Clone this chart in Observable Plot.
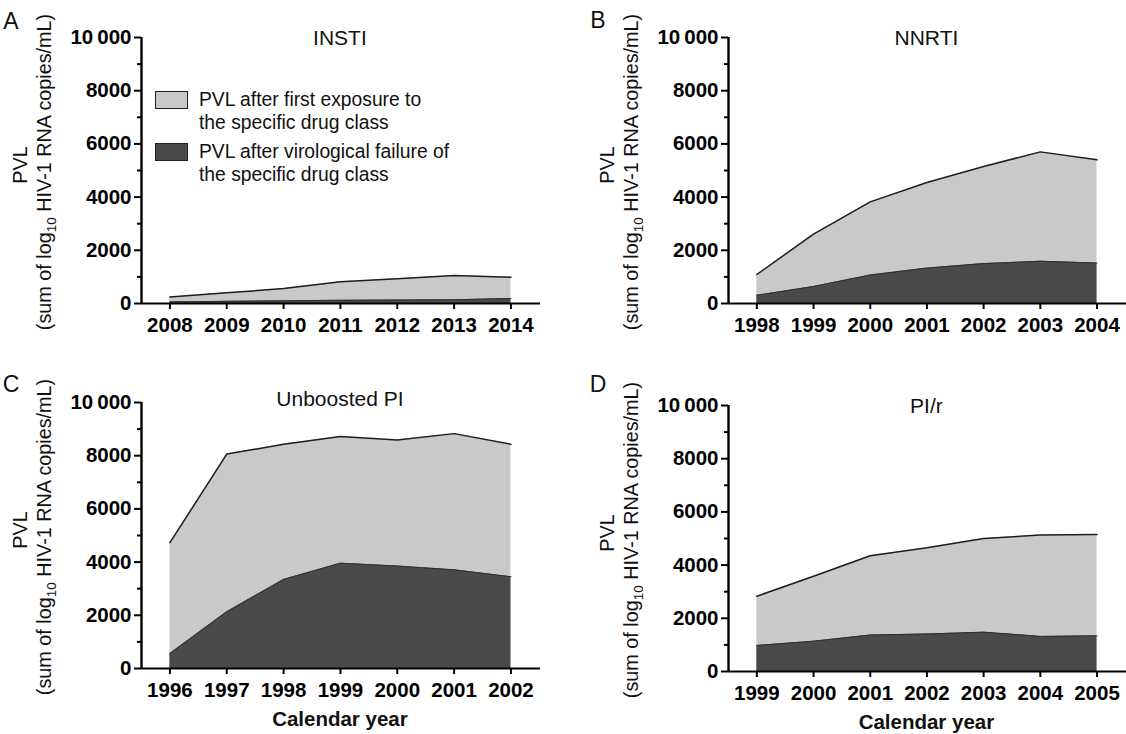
<!DOCTYPE html>
<html>
<head>
<meta charset="utf-8">
<script src="https://cdn.jsdelivr.net/npm/d3@7"></script>
<script src="https://cdn.jsdelivr.net/npm/@observablehq/plot@0.6"></script>
<style>
  html, body { margin: 0; padding: 0; background: #fff; overflow: hidden; }
  #page { position: relative; width: 1126px; height: 734px; font-family: 'Liberation Sans', Arial, Helvetica, sans-serif; }
  .panel { position: absolute; }
  #legend { position: absolute; left: 155px; top: 88px; font-size: 19.3px; color: #111; line-height: 23px; }
  .item { position: relative; padding-left: 44px; margin-bottom: 6px; }
  .sw { position: absolute; left: 0; top: 3px; width: 33px; height: 18px; border: 1px solid #222; box-sizing: border-box; }
</style>
</head>
<body>
<div id="page"></div>
<script>
// ---- data ----
const instiYears = [2008, 2009, 2010, 2011, 2012, 2013, 2014];
const instiExposure = [240, 400, 560, 820, 930, 1050, 990];
const instiFailure = [60, 80, 100, 120, 130, 140, 190];

const nnrtiYears = [1998, 1999, 2000, 2001, 2002, 2003, 2004];
const nnrtiExposure = [1090, 2610, 3820, 4550, 5150, 5700, 5400];
const nnrtiFailure = [310, 640, 1070, 1330, 1500, 1590, 1520];

const upiYears = [1996, 1997, 1998, 1999, 2000, 2001, 2002];
const upiExposure = [4730, 8060, 8430, 8720, 8590, 8830, 8430];
const upiFailure = [560, 2130, 3350, 3960, 3850, 3710, 3450];

const pirYears = [1999, 2000, 2001, 2002, 2003, 2004, 2005];
const pirExposure = [2830, 3580, 4350, 4650, 5000, 5130, 5150];
const pirFailure = [980, 1140, 1370, 1410, 1480, 1320, 1340];

const majorTicks = [0, 2000, 4000, 6000, 8000, 10000];
const minorTicks = [1000, 3000, 5000, 7000, 9000];
const seriesLabels = [
  ["PVL after first exposure to", "the specific drug class"],
  ["PVL after virological failure of", "the specific drug class"]
];
const lightFill = "#c9c9c9";
const darkFill = "#4a4a4a";
const font = "'Liberation Sans', Arial, Helvetica, sans-serif";

function makePanel(cfg) {
  const {years, exposure, failure, title, letter, left, top, width, marginRight, height, titleBaseline, letterBaseline, xLabel} = cfg;
  const rows = years.map((year, i) => ({year, exposure: exposure[i], failure: failure[i]}));
  const x0 = years[0] - 0.5;
  const x1 = years[years.length - 1] + 0.52;
  const chart = Plot.plot({
    width, height,
    marginLeft: 141, marginRight, marginTop: 37, marginBottom: height - 303,
    x: {domain: [x0, x1]},
    y: {domain: [0, 10000]},
    style: {fontFamily: font, background: "white", color: "black", overflow: "visible"},
    marks: [
      Plot.areaY(rows, {x: "year", y: "exposure", fill: lightFill}),
      Plot.areaY(rows, {x: "year", y: "failure", fill: darkFill}),
      Plot.lineY(rows, {x: "year", y: "exposure", stroke: "#1e1e1e", strokeWidth: 1.5}),
      Plot.lineY(rows, {x: "year", y: "failure", stroke: "#2e2e2e", strokeWidth: 1}),
      Plot.axisY({ticks: majorTicks, tickSize: 7, tickPadding: 3, strokeWidth: 2, label: null,
        fontSize: 20.5, fontWeight: "bold",
        tickFormat: d => d === 10000 ? "10\u2009000" : String(d)}),
      Plot.axisY({ticks: minorTicks, tickSize: 4, strokeWidth: 2, label: null, tickFormat: () => ""}),
      Plot.axisX({ticks: years, tickSize: 6, tickPadding: 8, strokeWidth: 2, label: null,
        fontSize: 20.5, fontWeight: "bold", tickFormat: d => String(d)}),
      Plot.ruleX([x0], {stroke: "black", strokeWidth: 2.4}),
      Plot.ruleY([0], {stroke: "black", strokeWidth: 2.2})
    ]
  });
  const svg = d3.select(chart);
  const xs = chart.scale("x");
  const cx = xs.apply((years[0] + years[years.length - 1]) / 2);
  svg.append("text").attr("x", 11).attr("y", letterBaseline).attr("font-size", 23).attr("fill", "#111").text(letter);
  svg.append("text").attr("x", cx).attr("y", titleBaseline).attr("text-anchor", "middle")
    .attr("font-size", 21).attr("fill", "#111").text(title);
  svg.append("text").attr("transform", "translate(27,165) rotate(-90)").attr("text-anchor", "middle")
    .attr("font-size", 19.8).attr("fill", "#111").text("PVL");
  const t2 = svg.append("text").attr("transform", "translate(51,172) rotate(-90)").attr("text-anchor", "middle")
    .attr("font-size", 19.8).attr("fill", "#111");
  t2.append("tspan").text("(sum of log");
  t2.append("tspan").attr("font-size", 13.5).attr("dy", 5).text("10");
  t2.append("tspan").attr("dy", -5).text(" HIV-1 RNA copies/mL)");
  if (xLabel) {
    svg.append("text").attr("x", cx).attr("y", height - 5 - (top === 365 ? 3 : 0)).attr("text-anchor", "middle")
      .attr("font-size", 20.5).attr("font-weight", "bold").attr("fill", "#111").text(xLabel);
  }
  const div = document.createElement("div");
  div.className = "panel";
  div.style.left = left + "px";
  div.style.top = top + "px";
  div.appendChild(chart);
  document.getElementById("page").appendChild(div);
}

makePanel({years: instiYears, exposure: instiExposure, failure: instiFailure, title: "INSTI", letter: "A",
  left: 0, top: 0, width: 563, marginRight: 23, height: 365, titleBaseline: 45, letterBaseline: 29});
makePanel({years: nnrtiYears, exposure: nnrtiExposure, failure: nnrtiFailure, title: "NNRTI", letter: "B",
  left: 587, top: 0, width: 539, marginRight: 0, height: 365, titleBaseline: 45, letterBaseline: 28});
makePanel({years: upiYears, exposure: upiExposure, failure: upiFailure, title: "Unboosted PI", letter: "C",
  left: 0, top: 365, width: 563, marginRight: 23, height: 369, titleBaseline: 41, letterBaseline: 27, xLabel: "Calendar year"});
makePanel({years: pirYears, exposure: pirExposure, failure: pirFailure, title: "PI/r", letter: "D",
  left: 587, top: 368, width: 539, marginRight: 0, height: 366, titleBaseline: 45, letterBaseline: 24, xLabel: "Calendar year"});

// legend (panel A)
const legend = document.createElement("div");
legend.id = "legend";
[lightFill, darkFill].forEach((c, i) => {
  const item = document.createElement("div");
  item.className = "item";
  const sw = document.createElement("div");
  sw.className = "sw";
  sw.style.background = c;
  item.appendChild(sw);
  seriesLabels[i].forEach(line => {
    const l = document.createElement("div");
    l.textContent = line;
    item.appendChild(l);
  });
  legend.appendChild(item);
});
document.getElementById("page").appendChild(legend);
</script>
</body>
</html>
